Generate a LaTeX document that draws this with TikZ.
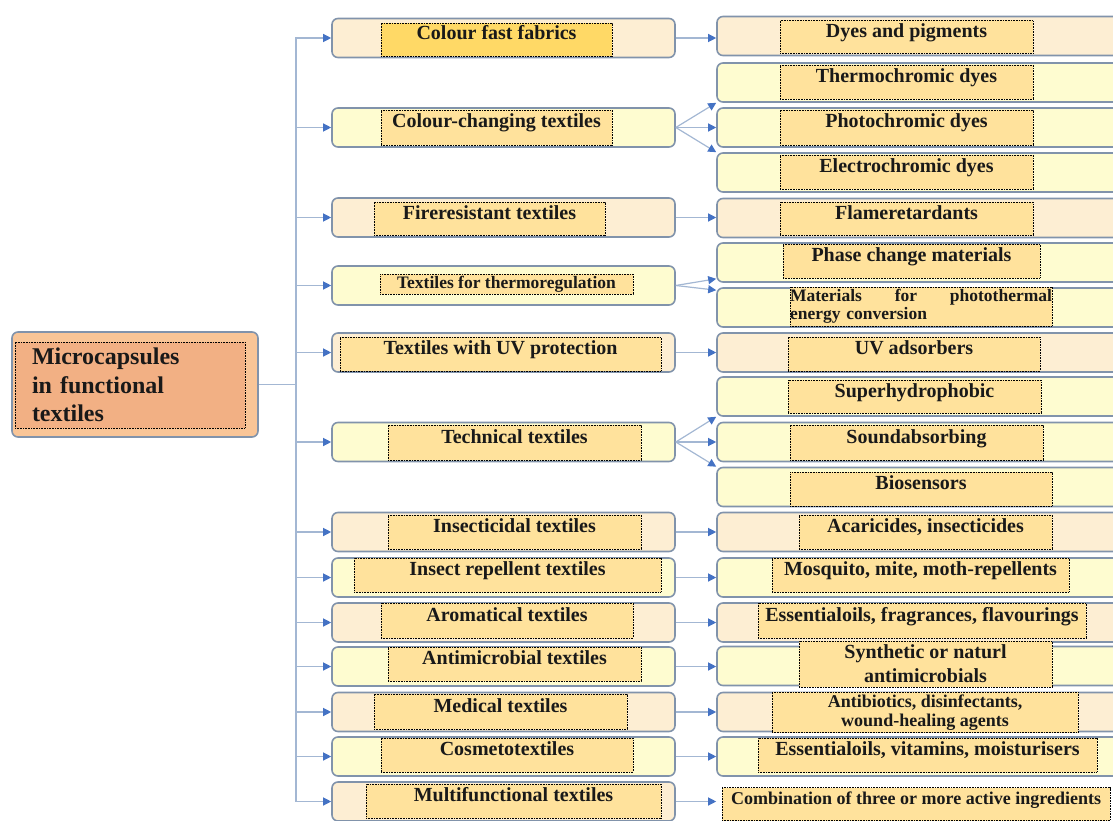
\documentclass[tikz,border=0pt]{standalone}
\usepackage{fontspec}
\setmainfont{Liberation Serif}
\usetikzlibrary{arrows.meta}

\definecolor{peach}{HTML}{FDEED3}
\definecolor{lemon}{HTML}{FEFCD0}
\definecolor{innergold}{HTML}{FFE29C}
\definecolor{deepgold}{HTML}{FFD966}
\definecolor{salmon}{HTML}{F9C597}
\definecolor{salmondark}{HTML}{F2B084}
\definecolor{boxedge}{HTML}{8193AB}
\definecolor{wireblue}{HTML}{A3B7D3}
\definecolor{tipblue}{HTML}{4472C4}

\begin{document}
\begin{tikzpicture}[x=1pt, y=-1pt,
  outer/.style={draw=boxedge, line width=1.6pt, rounded corners=6pt, minimum height=39pt, inner sep=0pt},
  po/.style={outer, fill=peach},
  yo/.style={outer, fill=lemon},
  mid/.style={minimum width=343pt},
  side/.style={minimum width=413pt},
  inbox/.style={draw=black, dash pattern=on 0.8pt off 0.8pt, line width=0.6pt, fill=innergold, inner xsep=0pt, inner ysep=2pt, text=black!90, font=\bfseries\fontsize{20}{24}\selectfont},
  one/.style={text height=15pt, text depth=14pt},
  small/.style={font=\bfseries\fontsize{17.5}{18}\selectfont},
  wire/.style={draw=wireblue, line width=1.2pt},
  link/.style={wire, -{Triangle[length=8pt, width=8pt, color=tipblue]}}]

\useasboundingbox (0,0) rectangle (1113,821);
\clip (0,0) rectangle (1113,821);

\node[draw=boxedge, line width=1.6pt, rounded corners=6pt, fill=salmon, minimum width=246pt, minimum height=105pt] at (135,384.5) (main) {};
\node[inbox, fill=salmondark, minimum width=230pt, minimum height=86pt, text width=196pt, inner xsep=17pt, align=left, font=\bfseries\fontsize{24}{28.5}\selectfont] at (130,385) (maint) {Microcapsules\\in functional\\textiles};

\node[po, mid] at (503.5,38) (m1) {};
\node[yo, mid] at (503.5,127.5) (m2) {};
\node[po, mid] at (503.5,217.5) (m3) {};
\node[yo, mid] at (503.5,285.5) (m4) {};
\node[po, mid] at (503.5,352.5) (m5) {};
\node[yo, mid] at (503.5,442) (m6) {};
\node[po, mid] at (503.5,532) (m7) {};
\node[yo, mid] at (503.5,577.5) (m8) {};
\node[po, mid] at (503.5,622.5) (m9) {};
\node[yo, mid] at (503.5,666.5) (m10) {};
\node[po, mid] at (503.5,712) (m11) {};
\node[yo, mid] at (503.5,756.5) (m12) {};
\node[po, mid] at (503.5,801.5) (m13) {};

\node[inbox, one, fill=deepgold, minimum width=231pt, minimum height=33pt] at (496.5,39.5) (m1t) {Colour fast fabrics};
\node[inbox, one, minimum width=231pt, minimum height=35pt] at (496.5,127.5) (m2t) {Colour-changing textiles};
\node[inbox, one, minimum width=231pt, minimum height=33pt] at (489.5,218.5) (m3t) {Fireresistant textiles};
\node[inbox, small, text height=13pt, text depth=5pt, inner ysep=1pt, minimum width=253pt, minimum height=20pt] at (506.5,284) (m4t) {Textiles for thermoregulation};
\node[inbox, one, minimum width=321pt, minimum height=34pt] at (500.5,354) (m5t) {Textiles with UV protection};
\node[inbox, one, minimum width=253pt, minimum height=35pt] at (514.5,442.5) (m6t) {Technical textiles};
\node[inbox, one, minimum width=253pt, minimum height=34pt] at (514.5,532) (m7t) {Insecticidal textiles};
\node[inbox, one, minimum width=307pt, minimum height=34pt] at (507.5,575) (m8t) {Insect repellent textiles};
\node[inbox, one, minimum width=252pt, minimum height=35pt] at (507,620.5) (m9t) {Aromatical textiles};
\node[inbox, one, minimum width=253pt, minimum height=34pt] at (514.5,664) (m10t) {Antimicrobial textiles};
\node[inbox, one, minimum width=253pt, minimum height=35pt] at (500.5,711.5) (m11t) {Medical textiles};
\node[inbox, one, minimum width=252pt, minimum height=34pt] at (507,755) (m12t) {Cosmetotextiles};
\node[inbox, one, minimum width=295pt, minimum height=34pt] at (513.5,801) (m13t) {Multifunctional textiles};

\node[po, side] at (923.5,36) (r1) {};
\node[yo, side] at (923.5,82.5) (r2) {};
\node[yo, side] at (923.5,127.5) (r3) {};
\node[yo, side] at (923.5,172.5) (r4) {};
\node[po, side] at (923.5,218) (r5) {};
\node[yo, side] at (923.5,262.5) (r6) {};
\node[yo, side] at (923.5,307.5) (r7) {};
\node[po, side] at (923.5,352.5) (r8) {};
\node[yo, side] at (923.5,396.5) (r9) {};
\node[yo, side] at (923.5,442) (r10) {};
\node[yo, side] at (923.5,487) (r11) {};
\node[po, side] at (923.5,532) (r12) {};
\node[yo, side] at (923.5,577.5) (r13) {};
\node[po, side] at (923.5,622.5) (r14) {};
\node[yo, side] at (923.5,666) (r15) {};
\node[po, side] at (923.5,712) (r16) {};
\node[yo, side] at (923.5,756.5) (r17) {};

\node[inbox, one, minimum width=253pt, minimum height=32pt] at (906.5,37) (r1t) {Dyes and pigments};
\node[inbox, one, minimum width=253pt, minimum height=34pt] at (906.5,82) (r2t) {Thermochromic dyes};
\node[inbox, one, minimum width=253pt, minimum height=35pt] at (906.5,127.5) (r3t) {Photochromic dyes};
\node[inbox, one, minimum width=253pt, minimum height=34pt] at (906.5,172) (r4t) {Electrochromic dyes};
\node[inbox, one, minimum width=253pt, minimum height=33pt] at (906.5,218.5) (r5t) {Flameretardants};
\node[inbox, one, minimum width=257pt, minimum height=34pt] at (911.5,261) (r6t) {Phase change materials};
\node[inbox, small, minimum width=262pt, minimum height=39pt, text width=262pt, align=left] at (921,306.5) (r7t) {Materials\hfill for\hfill photothermal\\energy conversion};
\node[inbox, one, minimum width=252pt, minimum height=34pt] at (914,354) (r8t) {UV adsorbers};
\node[inbox, one, minimum width=253pt, minimum height=33pt] at (914.5,396.5) (r9t) {Superhydrophobic};
\node[inbox, one, minimum width=253pt, minimum height=35pt] at (916.5,442.5) (r10t) {Soundabsorbing};
\node[inbox, one, minimum width=262pt, minimum height=34pt] at (921,489) (r11t) {Biosensors};
\node[inbox, one, minimum width=253pt, minimum height=34pt] at (925.5,532) (r12t) {Acaricides, insecticides};
\node[inbox, one, minimum width=297pt, minimum height=34pt] at (920.5,575) (r13t) {Mosquito, mite, moth-repellents};
\node[inbox, one, minimum width=328pt, minimum height=35pt] at (922,620.5) (r14t) {Essentialoils, fragrances, flavourings};
\node[inbox, minimum width=253pt, minimum height=46pt, align=center] at (925.5,664) (r15t) {Synthetic or naturl\\antimicrobials};
\node[inbox, minimum width=306pt, minimum height=39pt, align=center, font=\bfseries\fontsize{18}{19.5}\selectfont] at (925,712.5) (r16t) {Antibiotics, disinfectants,\\wound-healing agents};
\node[inbox, one, minimum width=339pt, minimum height=34pt] at (927.5,755) (r17t) {Essentialoils, vitamins, moisturisers};
\node[inbox, one, minimum width=388pt, minimum height=32pt, font=\bfseries\fontsize{18}{22}\selectfont] at (916,804) (r18t) {Combination of three or more active ingredients};

\coordinate (spine) at (296,384.5);
\draw[wire] (main.east) -- (spine);
\foreach \m in {1,...,13}
  \draw[link] (spine) |- (m\m.west);

\foreach \a/\b in {1/1, 3/5, 5/8, 7/12, 8/13, 9/14, 10/15, 11/16, 12/17}
  \draw[link] (m\a.east) -- (m\a.east -| r\b.west);
\draw[link] (m13.east) -- (m13.east -| r1.west);

\foreach \b/\anc in {2/south west, 3/west, 4/north west}
  \draw[link] (m2.east) -- (r\b.\anc);
\draw[link] (m4.east) -- ([yshift=4pt]r6.south west);
\draw[link] (m4.east) -- ([yshift=-3pt]r7.north west);
\foreach \b/\anc in {9/south west, 10/west, 11/north west}
  \draw[link] (m6.east) -- (r\b.\anc);

\end{tikzpicture}
\end{document}
